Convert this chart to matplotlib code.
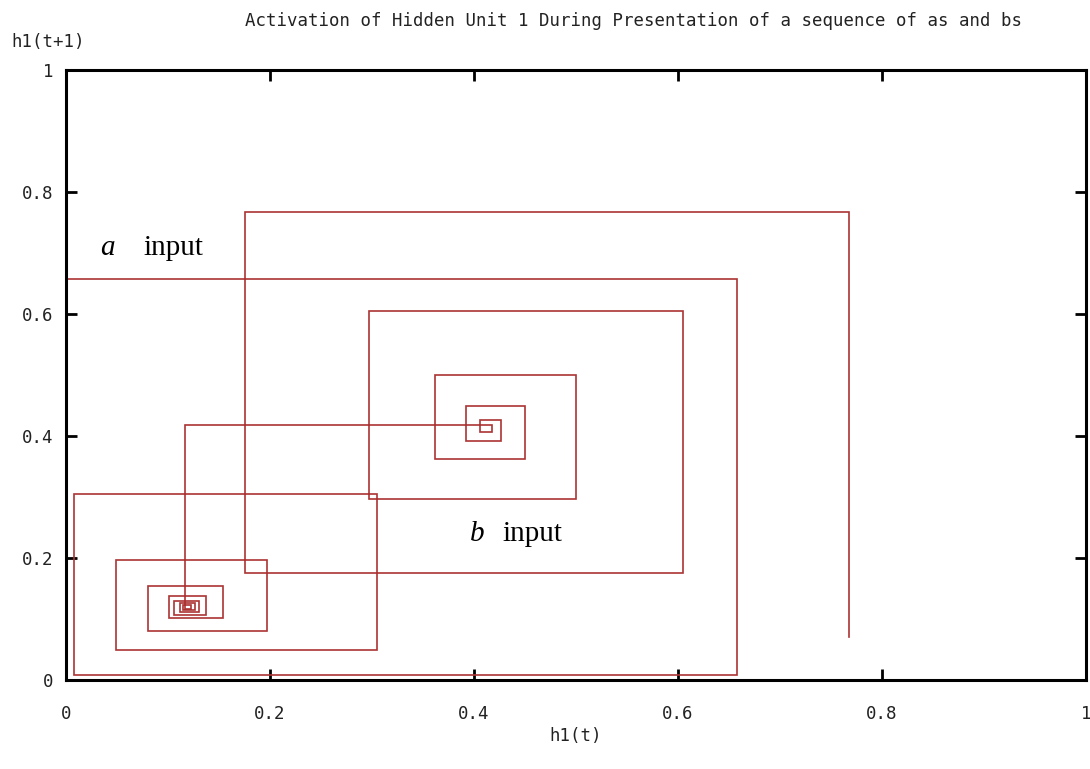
import numpy as np
import matplotlib
matplotlib.use("Agg")
import matplotlib.pyplot as plt

# activation sequence of hidden unit 1
h_a = [0.0, 0.658, 0.008, 0.305, 0.049, 0.197, 0.080, 0.154, 0.101,
       0.137, 0.106, 0.130, 0.112, 0.126, 0.115, 0.123, 0.117]
h_b = [0.418, 0.406, 0.426, 0.392, 0.450, 0.362, 0.500, 0.297,
       0.605, 0.175, 0.768, 0.070]
h = np.array(h_a + h_b)

ticks = [0, 0.2, 0.4, 0.6, 0.8, 1]
tick_labels = ["0", "0.2", "0.4", "0.6", "0.8", "1"]

title = "Activation of Hidden Unit 1 During Presentation of a sequence of as and bs"
mono = "DejaVu Sans Mono"

fig = plt.figure(figsize=(10.9, 7.69), dpi=100)
ax = fig.add_axes([66 / 1090, 1 - 680 / 769, 1020 / 1090, 610 / 769])

# staircase / cobweb path: (h_t, h_t+1) -> (h_t+1, h_t+1) -> ...
r = np.repeat(h, 2)
xs = r[1:-2]
ys = r[2:-1]
ax.plot(xs, ys, color="#ad3333", lw=1.2, solid_joinstyle="miter")

ax.set_xlim(0, 1)
ax.set_ylim(0, 1)
ax.set_xticks(ticks)
ax.set_xticklabels(tick_labels)
ax.set_yticks(ticks)
ax.set_yticklabels(tick_labels)
ax.tick_params(direction="in", length=8, width=2, top=True, right=True,
               labelsize=12.5, colors="black", labelcolor="#222222")
ax.tick_params(axis="x", pad=18)
ax.tick_params(axis="y", pad=9)
for lab in ax.get_xticklabels() + ax.get_yticklabels():
    lab.set_family(mono)
for s in ax.spines.values():
    s.set_linewidth(2.2)

# annotations
ax.text(0.033, 0.697, "a", fontsize=21, family="Liberation Serif",
        style="italic")
ax.text(0.076, 0.697, "input", fontsize=21, family="Liberation Serif")
ax.text(0.396, 0.228, "b", fontsize=21, family="Liberation Serif",
        style="italic")
ax.text(0.428, 0.228, "input", fontsize=21, family="Liberation Serif")

fig.text(0.581, 0.973, title, ha="center", va="center", family=mono,
         fontsize=12.5, color="#222222")
fig.text(0.044, 0.946, "h1(t+1)", ha="center", va="center", family=mono,
         fontsize=12.5, color="#222222")
fig.text(0.528, 0.043, "h1(t)", ha="center", va="center", family=mono,
         fontsize=12.5, color="#222222")

fig.savefig("out.png", dpi=100)
